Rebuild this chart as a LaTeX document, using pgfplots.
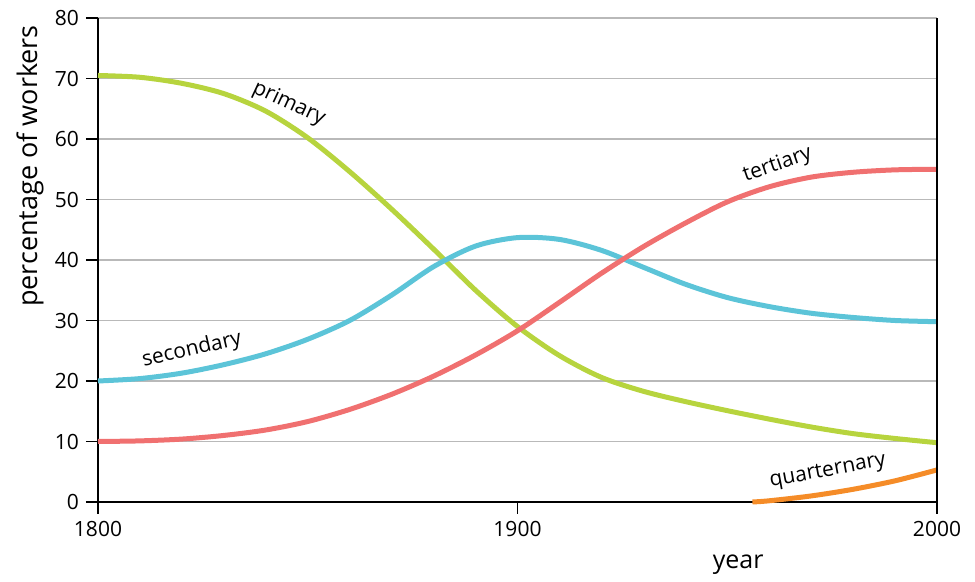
\documentclass[border=0pt]{standalone}
\usepackage{pgfplots}
\pgfplotsset{compat=1.18}
\usepackage{fontspec}
\setmainfont{Open Sans}
\definecolor{cprim}{RGB}{183,212,62}
\definecolor{csec}{RGB}{92,196,216}
\definecolor{cter}{RGB}{240,112,112}
\definecolor{cquat}{RGB}{245,140,40}
\definecolor{cgrid}{RGB}{185,185,185}
\begin{document}
\begin{tikzpicture}
\begin{axis}[
  scale only axis,
  width=419.5pt, height=242pt,
  xmin=1800, xmax=2000, ymin=0, ymax=80,
  axis x line*=bottom, axis y line*=left,
  axis line style={line width=1.2pt, -},
  xtick={1800,1900,2000}, ytick={0,10,...,80},
  xticklabel style={/pgf/number format/1000 sep={}},
  /pgf/number format/assume math mode=true,
  tick style={black, line width=0.8pt},
  major tick length=6pt,
  tick align=outside,
  ymajorgrids, grid style={cgrid, line width=0.8pt},
  ticklabel style={font=\fontsize{10.5}{12}\selectfont},
  clip=false,
  ylabel={percentage of workers},
  ylabel style={at={(axis description cs:-0.081,0.694)}, anchor=center, font=\fontsize{13.5}{15}\selectfont},
  xlabel={year},
  xlabel style={at={(axis description cs:0.763,-0.130)}, anchor=center, font=\fontsize{12.5}{14}\selectfont},
]
\path (axis description cs:-0.1168,1.0372) rectangle (axis description cs:1.0453,-0.1591);
\addplot[cprim, line width=2.5pt, smooth] coordinates {
(1800,70.5) (1810,70.2) (1820,69.2) (1830,67.5) (1840,64.6) (1850,60.2) (1860,54.6) (1870,48.4) (1880,41.8) (1890,35.0) (1900,29.0) (1910,24.2) (1920,20.6) (1930,18.3) (1940,16.6) (1950,15.1) (1960,13.7) (1970,12.4) (1980,11.3) (1990,10.5) (2000,9.8)};
\addplot[csec, line width=2.5pt, smooth] coordinates {
(1800,20) (1810,20.4) (1820,21.3) (1830,22.7) (1840,24.5) (1850,26.9) (1860,30.0) (1870,34.2) (1880,38.9) (1890,42.3) (1900,43.7) (1910,43.4) (1920,41.6) (1930,38.8) (1940,36.0) (1950,33.8) (1960,32.3) (1970,31.2) (1980,30.5) (1990,30.0) (2000,29.8)};
\addplot[cter, line width=2.5pt, smooth] coordinates {
(1800,10) (1810,10.1) (1820,10.4) (1830,11.0) (1840,11.9) (1850,13.3) (1860,15.3) (1870,17.8) (1880,20.8) (1890,24.3) (1900,28.3) (1910,33.0) (1920,37.8) (1930,42.2) (1940,46.1) (1950,49.6) (1960,52.1) (1970,53.7) (1980,54.5) (1990,54.9) (2000,55.0)};
\addplot[cquat, line width=2.5pt, smooth] coordinates {
(1956,0) (1960,0.2) (1970,1.0) (1980,2.1) (1990,3.5) (2000,5.3)};
\node[rotate=-25, font=\fontsize{10.5}{12}\selectfont] at (axis cs:1845.5,65.8) {primary};
\node[rotate=13, font=\fontsize{10.5}{12}\selectfont] at (axis cs:1822.4,25.1) {secondary};
\node[rotate=19, font=\fontsize{10.5}{12}\selectfont] at (axis cs:1962,55.7) {tertiary};
\node[rotate=10.5, font=\fontsize{10.5}{12}\selectfont] at (axis cs:1974,5.0) {quarternary};
\draw[black, line width=1.2pt] (rel axis cs:1,0) -- (rel axis cs:1,1);
\end{axis}
\end{tikzpicture}
\end{document}
